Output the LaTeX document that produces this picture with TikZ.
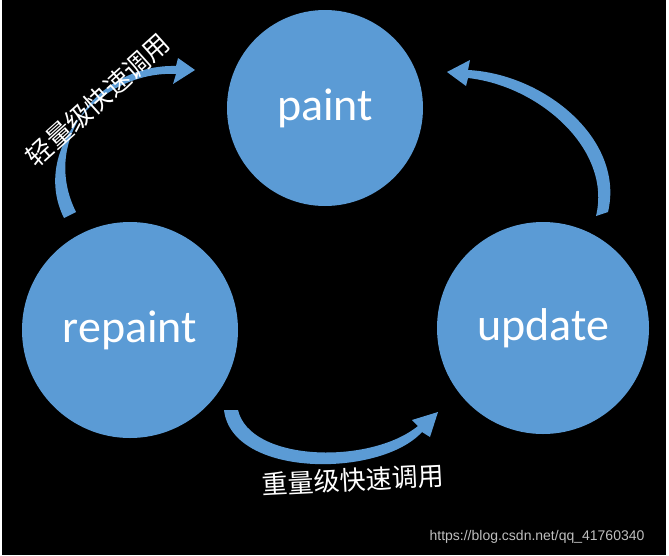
\documentclass[tikz,border=0pt]{standalone}
\usepackage{fontspec}
\setmainfont{Carlito}
\newfontfamily\cjk{Noto Sans CJK SC}
\newfontfamily\wm{Liberation Sans}
\begin{document}
\begin{tikzpicture}[x=1pt,y=-1pt]
\tikzset{circ/.style={circle,fill=blue1,text=white,font=\fontsize{46}{50}\selectfont,inner sep=0},
arr/.style={fill=blue1},
lbl/.style={text=white,font=\cjk\fontsize{26}{30}\selectfont,inner sep=0}}
\definecolor{blue1}{HTML}{5B9BD5}
\fill[white] (0,0) rectangle (669,555);
\fill[black] (2,0) rectangle (666,555);
\useasboundingbox (0,0) rectangle (669,555);
\node[circ,minimum size=196pt] (paint) at (325,108) {paint};
\node[circ,minimum size=216pt] (repaint) at (130,330) {repaint};
\node[circ,minimum size=212pt] (update) at (543,328) {update};
\fill[arr] (64,218) .. controls (30,150) and (100,70) .. (176,74) -- (173,84) -- (195,70) -- (178,58) -- (176,66) .. controls (100,64) and (40,140) .. (76,212) -- cycle;
\fill[arr] (608,212) .. controls (625,140) and (545,74) .. (468,70) -- (470,60) -- (447,72) -- (466,86) -- (468,78) .. controls (540,86) and (612,150) .. (596,216) -- cycle;
\fill[arr] (224,410) .. controls (232,478) and (380,478) .. (422,432) -- (430,437) -- (438,412) -- (412,420) -- (418,426) .. controls (370,465) and (250,462) .. (238,410) -- cycle;
\node[lbl,rotate=42] (t1) at (98,100) {轻量级快速调用};
\node[lbl,rotate=3] (t2) at (353,480) {重量级快速调用};
\node[text=white!75!black,font=\wm\fontsize{14}{16}\selectfont] (wm) at (537,537) {https://blog.csdn.net/qq\_41760340};
\end{tikzpicture}
\end{document}
